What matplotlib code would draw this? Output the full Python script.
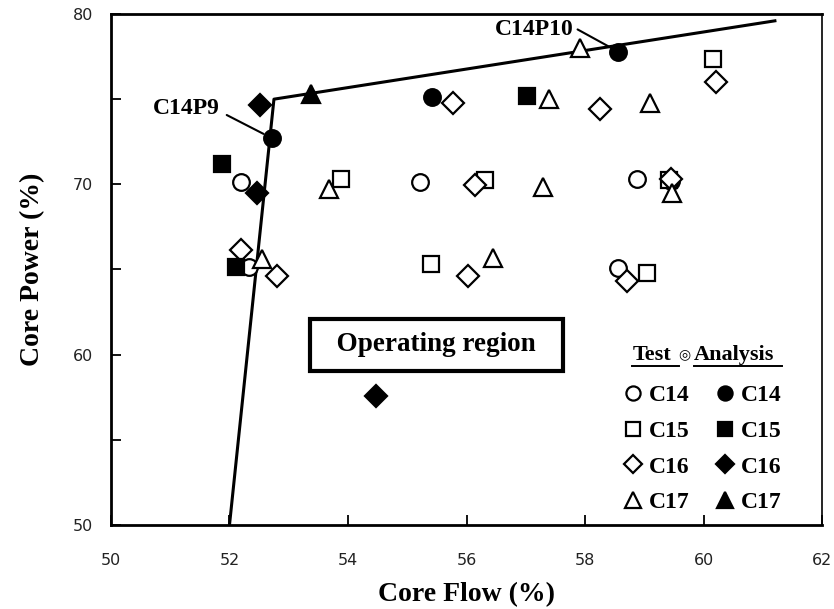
import matplotlib
matplotlib.use("Agg")
import matplotlib.pyplot as plt

SERIF = ["Liberation Serif", "DejaVu Serif"]

# boundary line of the operating region
bound_x = [52.0, 52.75, 61.2]
bound_y = [50.0, 75.0, 79.6]

# test data (open markers)
t14_x = [52.19, 55.22, 58.88, 59.44, 52.33, 58.56]
t14_y = [70.13, 70.13, 70.30, 70.20, 65.17, 65.10]
t15_x = [53.88, 56.31, 59.42, 55.40, 59.05, 60.16]
t15_y = [70.30, 70.25, 70.25, 65.35, 64.80, 77.37]
t16_x = [55.77, 58.25, 60.21, 56.14, 59.44, 52.19, 52.80, 56.03, 58.71]
t16_y = [74.80, 74.45, 76.03, 69.96, 70.30, 66.16, 64.60, 64.60, 64.30]
t17_x = [57.92, 57.39, 59.10, 53.68, 57.29, 59.47, 52.55, 56.45]
t17_y = [78.00, 75.00, 74.80, 69.70, 69.84, 69.50, 65.60, 65.70]

# analysis data (filled markers)
a14_x = [52.72, 55.42, 58.56]
a14_y = [72.70, 75.10, 77.78]
a15_x = [51.87, 57.02, 52.11]
a15_y = [71.18, 75.20, 65.17]
a16_x = [52.51, 52.46, 54.47]
a16_y = [74.63, 69.50, 57.58]
a17_x = [53.38]
a17_y = [75.33]

cases = ["C14", "C15", "C16", "C17"]
markers = ["o", "s", "D", "^"]
sizes = [12, 12, 11, 13]

fig = plt.figure(figsize=(8.34, 6.09), dpi=100)
ax = fig.add_axes([0.133, 0.138, 0.853, 0.839])

ax.plot(bound_x, bound_y, color="black", lw=2.2, zorder=2)

tests = [(t14_x, t14_y), (t15_x, t15_y), (t16_x, t16_y), (t17_x, t17_y)]
anal = [(a14_x, a14_y), (a15_x, a15_y), (a16_x, a16_y), (a17_x, a17_y)]
handles = []
for (x, y), m, s in zip(tests, markers, sizes):
    h, = ax.plot(x, y, ls="none", marker=m, ms=s, mfc="white", mec="black",
                 mew=1.6, zorder=3)
    handles.append(h)
for (x, y), m, s in zip(anal, markers, sizes):
    h, = ax.plot(x, y, ls="none", marker=m, ms=s, mfc="black", mec="black",
                 mew=1.6, zorder=4)
    handles.append(h)

# point labels
ax.annotate("C14P9", xy=(a14_x[0], a14_y[0]), xytext=(51.28, 74.45),
            fontsize=17, fontweight="bold", family=SERIF, ha="center",
            va="center",
            arrowprops=dict(arrowstyle="-", color="black", lw=1.5,
                            relpos=(1.0, 0.35), shrinkA=3, shrinkB=7))
ax.annotate("C14P10", xy=(a14_x[2], a14_y[2]), xytext=(57.14, 79.1),
            fontsize=17, fontweight="bold", family=SERIF, ha="center",
            va="center",
            arrowprops=dict(arrowstyle="-", color="black", lw=1.5,
                            relpos=(1.0, 0.6), shrinkA=1, shrinkB=5))

ax.text(55.49, 60.58, "  Operating region  ", fontsize=19.5,
        fontweight="bold", family=SERIF, ha="center", va="center",
        bbox=dict(boxstyle="square,pad=0.5", fc="white", ec="black", lw=3.0))

# legend
labels = cases + cases
leg = ax.legend(handles, labels, ncol=2, frameon=False, loc="lower right",
                bbox_to_anchor=(0.972, -0.019), handletextpad=0.05,
                columnspacing=0.92, labelspacing=0.6, handlelength=1.2,
                markerscale=0.85,
                prop=dict(family=SERIF, weight="bold", size=17))
ax.text(0.733, 0.322, "Test", transform=ax.transAxes, fontsize=16,
        fontweight="bold", family=SERIF, ha="left", va="baseline")
ax.text(0.797, 0.327, "◎", transform=ax.transAxes, fontsize=10,
        fontweight="bold", family=["DejaVu Sans"], ha="left",
        va="baseline")
ax.text(0.819, 0.322, "Analysis", transform=ax.transAxes, fontsize=16,
        fontweight="bold", family=SERIF, ha="left", va="baseline")
ax.plot([0.733, 0.798], [0.311, 0.311], transform=ax.transAxes,
        color="black", lw=1.4)
ax.plot([0.819, 0.943], [0.311, 0.311], transform=ax.transAxes,
        color="black", lw=1.4)

ax.set_xlim(50, 62)
ax.set_ylim(50, 80)
ax.set_xticks(range(50, 63, 2))
ax.set_yticks(range(50, 81, 10))
ax.set_yticks(range(55, 80, 10), minor=True)
ax.tick_params(axis="both", which="both", direction="in", length=7,
               width=1.3, labelsize=11.5, colors="black")
ax.tick_params(axis="x", pad=20)
ax.tick_params(axis="y", pad=13)
for lab in ax.get_xticklabels() + ax.get_yticklabels():
    lab.set_color("#222222")
for sp in ["left", "bottom", "top"]:
    ax.spines[sp].set_linewidth(2.0)
ax.spines["right"].set_linewidth(1.2)

ax.set_xlabel("Core Flow (%)", fontsize=20, fontweight="bold", family=SERIF,
              labelpad=10)
ax.set_ylabel("Core Power (%)", fontsize=20, fontweight="bold",
              family=SERIF, labelpad=20)

fig.savefig("out.png", dpi=100)
